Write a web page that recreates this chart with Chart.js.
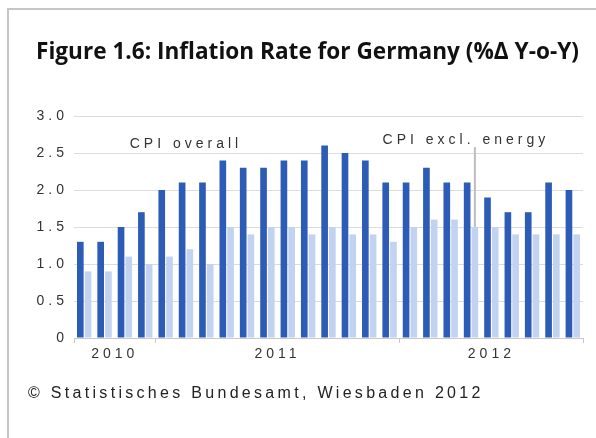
<!DOCTYPE html>
<html>
<head>
<meta charset="utf-8">
<script src="https://cdn.jsdelivr.net/npm/chart.js@4.4.1/dist/chart.umd.min.js"></script>
<style>
  html, body { margin: 0; padding: 0; background: #fff; }
  #wrap { position: relative; width: 596px; height: 438px; overflow: hidden; }
  #frame { position: absolute; left: 7px; top: 8px; width: 640px; height: 480px;
           border-left: 2px solid #c6c6c6; border-top: 2px solid #c6c6c6; }
  #chartBox { position: absolute; left: 0; top: 0; width: 596px; height: 438px; }
  #title { position: absolute; left: 0; width: 615px; top: 37px; text-align: center;
           font: bold 22.6px "Liberation Sans Narrow", "Open Sans", sans-serif; color: #111;
           line-height: 28px; white-space: nowrap; }
  #source { position: absolute; left: 28px; top: 384px; white-space: nowrap;
            font: 16px "Liberation Sans", Arial, sans-serif; letter-spacing: 3.3px; color: #222; }
</style>
</head>
<body>
<div id="wrap">
  <div id="frame"></div>
  <div id="chartBox"><canvas id="inflation"></canvas></div>
  <div id="title">Figure 1.6: Inflation Rate for Germany (%Δ Y-o-Y)</div>
  <div id="source">© Statistisches Bundesamt, Wiesbaden 2012</div>
</div>
<script>
"use strict"
// months Sep 2010 - Sep 2012
const months = [
    "2010-09", "2010-10", "2010-11", "2010-12",
    "2011-01", "2011-02", "2011-03", "2011-04", "2011-05", "2011-06",
    "2011-07", "2011-08", "2011-09", "2011-10", "2011-11", "2011-12",
    "2012-01", "2012-02", "2012-03", "2012-04", "2012-05", "2012-06",
    "2012-07", "2012-08", "2012-09"
];
const cpiOverall = [1.3, 1.3, 1.5, 1.7, 2.0, 2.1, 2.1, 2.4, 2.3, 2.3, 2.4, 2.4,
    2.6, 2.5, 2.4, 2.1, 2.1, 2.3, 2.1, 2.1, 1.9, 1.7, 1.7, 2.1, 2.0];
const cpiExclEnergy = [0.9, 0.9, 1.1, 1.0, 1.1, 1.2, 1.0, 1.5, 1.4, 1.5, 1.5, 1.4,
    1.5, 1.4, 1.4, 1.3, 1.5, 1.6, 1.6, 1.5, 1.5, 1.4, 1.4, 1.4, 1.4];
const yTicks = [0, 0.5, 1.0, 1.5, 2.0, 2.5, 3.0];
const seriesNames = ["CPI overall", "CPI excl. energy"];

const darkBlue = "#2c5cb6";
const lightBlue = "#c2d2f1";
const textGrey = "#333333";
const tickFont = { family: "'Liberation Sans', Arial, sans-serif", size: 14 };
const spacing = "4px";

// year labels sit in the middle of each year's months, tick marks at the year borders
const years = [];
months.forEach(function (m, i) {
    const yr = m.slice(0, 4);
    let last = years[years.length - 1];
    if (!last || last.year !== yr) {
        last = { year: yr, first: i, last: i };
        years.push(last);
    }
    last.last = i;
});
const yearMids = years.map(y => (y.first + y.last) / 2);
const yearEdges = [-0.5].concat(years.map(y => y.last + 0.5));
const yearTicks = yearEdges.concat(yearMids).sort((a, b) => a - b);

// letter spacing for every text the chart draws
const letterSpacing = {
    id: "letterSpacing",
    beforeLayout(chart) { chart.ctx.letterSpacing = spacing; },
    beforeDraw(chart) { chart.ctx.letterSpacing = spacing; }
};

// series names written in the plot, like the original
const seriesNotes = {
    id: "seriesNotes",
    afterDatasetsDraw(chart) {
        const ctx = chart.ctx;
        const x = chart.scales.x;
        const y = chart.scales.y;
        ctx.save();
        ctx.letterSpacing = spacing;
        ctx.font = "14px 'Liberation Sans', Arial, sans-serif";
        ctx.fillStyle = textGrey;
        ctx.textAlign = "center";
        ctx.textBaseline = "middle";
        ctx.fillText(seriesNames[0], x.getPixelForValue(5), y.getPixelForValue(2.62));

        const bar = chart.getDatasetMeta(1).data[19];
        ctx.fillText(seriesNames[1], bar.x - 9, y.getPixelForValue(2.68));
        ctx.strokeStyle = "#bdbdbd";
        ctx.lineWidth = 2;
        ctx.beginPath();
        ctx.moveTo(bar.x, y.getPixelForValue(2.58));
        ctx.lineTo(bar.x, bar.y);
        ctx.stroke();
        ctx.restore();
    }
};

const ctx = document.getElementById("inflation").getContext("2d");

const chart = new Chart(ctx, {
    type: "bar",
    data: {
        labels: months,
        datasets: [
            { label: seriesNames[0], data: cpiOverall, backgroundColor: darkBlue },
            { label: seriesNames[1], data: cpiExclEnergy, backgroundColor: lightBlue }
        ]
    },
    options: {
        responsive: true,
        maintainAspectRatio: false,
        animation: false,
        layout: { padding: { left: 20, right: 13, top: 116, bottom: 70 } },
        datasets: { bar: { categoryPercentage: 0.76, barPercentage: 0.86 } },
        plugins: {
            legend: { display: false },
            tooltip: { enabled: false }
        },
        scales: {
            x: { display: false },
            years: {
                type: "linear",
                position: "bottom",
                offset: false,
                min: -0.5,
                max: months.length - 0.5,
                afterBuildTicks: function (scale) {
                    scale.ticks = yearTicks.map(v => ({ value: v }));
                },
                afterFit: function (scale) { scale.height = 30; },
                grid: {
                    offset: false,
                    drawOnChartArea: false,
                    tickLength: 5,
                    color: function (c) {
                        return (c.tick && yearEdges.includes(c.tick.value)) ? "#c8c8c8" : "rgba(0,0,0,0)";
                    }
                },
                border: { color: "#c8c8c8" },
                ticks: {
                    autoSkip: false,
                    maxRotation: 0,
                    padding: 3,
                    color: textGrey,
                    font: tickFont,
                    callback: function (value) {
                        const k = yearMids.indexOf(value);
                        return k >= 0 ? years[k].year : "";
                    }
                }
            },
            y: {
                min: 0,
                max: 3,
                afterBuildTicks: function (scale) {
                    scale.ticks = yTicks.map(v => ({ value: v }));
                },
                afterFit: function (scale) { scale.width = 54; },
                grid: { color: "#dcdcdc", drawTicks: false, lineWidth: 1 },
                border: { display: false },
                ticks: {
                    padding: 6,
                    color: textGrey,
                    font: tickFont,
                    callback: function (value) {
                        return value === 0 ? "0" : value.toFixed(1);
                    }
                }
            }
        }
    },
    plugins: [letterSpacing, seriesNotes]
});
</script>
</body>
</html>
